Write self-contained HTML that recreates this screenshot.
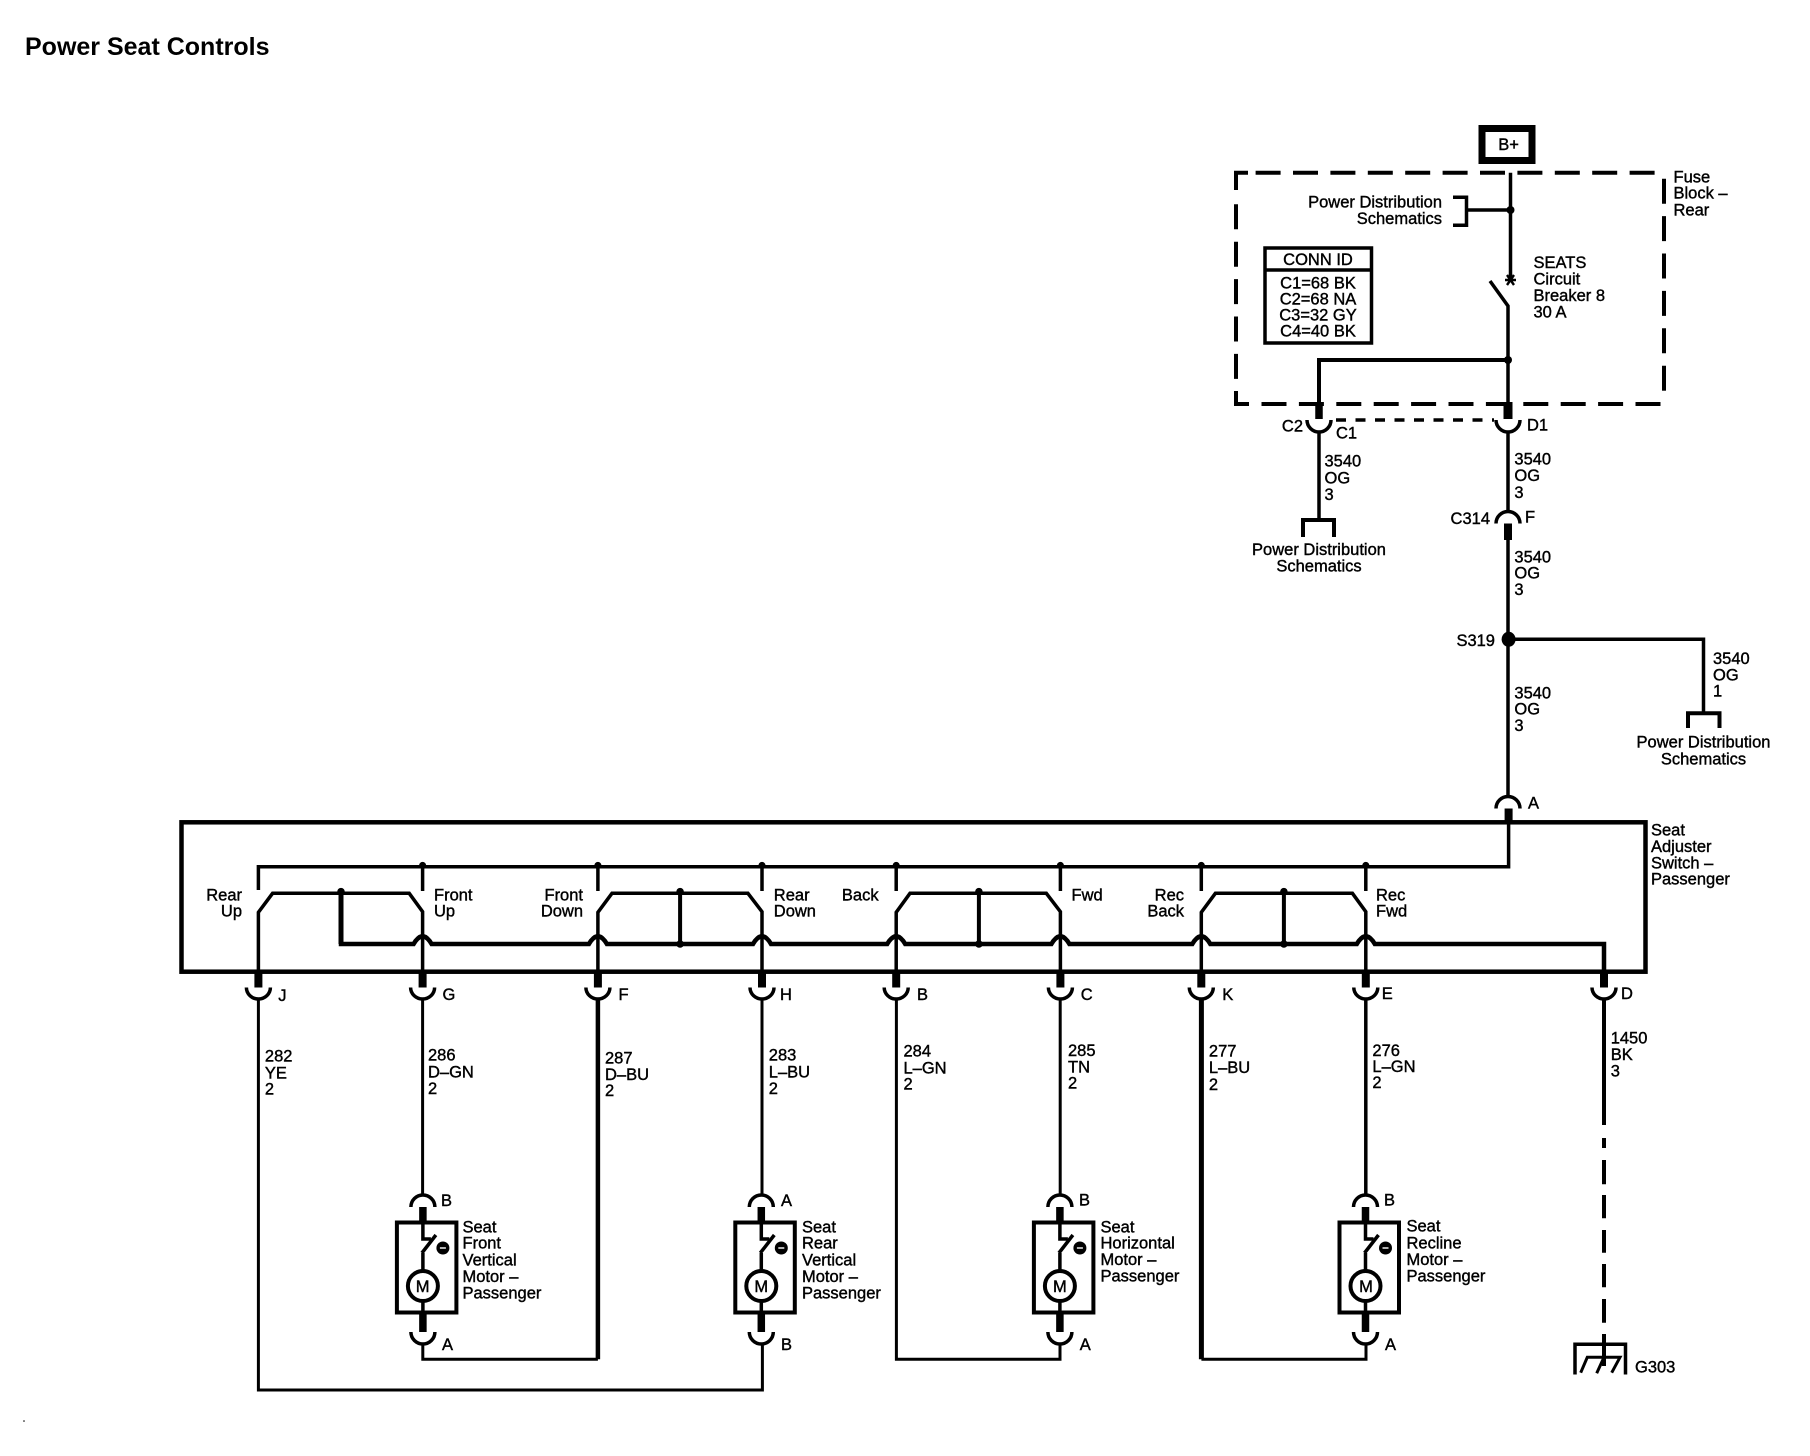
<!DOCTYPE html>
<html><head><meta charset="utf-8"><style>
html,body{margin:0;padding:0;background:#fff;width:1810px;height:1456px;overflow:hidden}
svg{display:block}
text{font-family:"Liberation Sans",sans-serif;font-size:16.5px;fill:#000;stroke:#000;stroke-width:.4}
.e{text-anchor:end}.m{text-anchor:middle}
.l{fill:none;stroke:#000;stroke-width:3.5}
.d{fill:none;stroke:#000;stroke-width:4;stroke-dasharray:25 12.4}
.s{fill:none;stroke:#000;stroke-width:7.5}
.o{fill:#000;stroke:none}
</style></head><body>
<svg width="1810" height="1456" viewBox="0 0 1810 1456" xmlns="http://www.w3.org/2000/svg">
<defs>
<g id="motor">
<path class="l" d="M-12 1207A12 12 0 0 1 12 1207"/>
<path class="s" d="M0 1207V1222"/>
<rect class="l" style="stroke-width:4" x="-26" y="1222.5" width="59.5" height="90"/>
<path class="l" d="M0 1222V1239H8"/>
<path class="l" d="M-1 1253L13 1235M0 1253V1271M0 1301V1315"/>
<circle class="l" style="stroke-width:4" cx="0" cy="1286" r="15"/>
<path class="s" d="M0 1313V1332"/>
<path class="l" d="M-12 1332A12 12 0 0 0 12 1332"/>
<circle class="o" cx="20" cy="1248" r="6.5"/>
<path d="M17 1248H23" stroke="#fff" stroke-width="1.4"/>
</g>
<path id="cup" class="l" d="M-12 987.5A12 11.5 0 0 0 12 987.5"/>
</defs>

<text x="25" y="55" style="font-size:25px;font-weight:bold;stroke-width:0">Power Seat Controls</text>
<circle class="o" cx="24" cy="1421" r="0.8"/>

<!-- B+ -->
<rect x="1482" y="128.5" width="50" height="32" fill="none" stroke="#000" stroke-width="7"/>
<text class="m" x="1508.6" y="150">B+</text>

<!-- fuse block dashed -->
<path class="d" d="M1255.6 172.7H1664"/>
<path class="d" d="M1236 204.3V404"/>
<path class="d" d="M1664 178.7V392"/>
<path class="d" d="M1261.5 404H1664"/>
<path fill="none" stroke="#000" stroke-width="4" d="M1236 190V172.7H1248"/>
<path fill="none" stroke="#000" stroke-width="4" d="M1236 391V404H1249"/>
<text x="1673.5" y="182.7">Fuse</text>
<text x="1673.5" y="198.7">Block –</text>
<text x="1673.5" y="215.7">Rear</text>

<!-- upper wire and switch -->
<path class="l" d="M1510.5 172.7V278"/>
<circle class="o" cx="1510.5" cy="210" r="4"/>
<path class="l" d="M1453 197.3H1466.5V225.3H1453M1466.5 210H1510.5"/>
<text class="e" x="1442" y="207.7">Power Distribution</text>
<text class="e" x="1442" y="224">Schematics</text>
<path fill="none" stroke="#000" stroke-width="2.4" d="M1505 280H1516M1507 275L1514 285M1514 275L1507 285"/>
<path class="l" d="M1490 281L1508 306V404"/>
<text x="1533.5" y="268">SEATS</text>
<text x="1533.5" y="284.3">Circuit</text>
<text x="1533.5" y="301">Breaker 8</text>
<text x="1533.5" y="317.3">30 A</text>
<path fill="none" stroke="#000" stroke-width="4" d="M1508 360H1319V404"/>
<circle class="o" cx="1508" cy="360" r="4"/>

<!-- conn id -->
<rect class="l" x="1265" y="248" width="106.5" height="95"/>
<path class="l" d="M1265 270H1371.5"/>
<text class="m" x="1318" y="265">CONN ID</text>
<text class="m" x="1318" y="288.3">C1=68 BK</text>
<text class="m" x="1318" y="304.3">C2=68 NA</text>
<text class="m" x="1318" y="320.7">C3=32 GY</text>
<text class="m" x="1318" y="336.7">C4=40 BK</text>

<!-- C1/D1 connector -->
<path class="s" d="M1319 402V419"/>
<path class="s" d="M1508 402V419" style="stroke-width:9"/>
<path class="l" d="M1307 420A12 12 0 0 0 1331 420"/>
<path class="l" d="M1496 420A12 12 0 0 0 1520 420"/>
<path class="l" stroke-dasharray="10 9.5" d="M1336 420H1494"/>
<text class="e" x="1303" y="431.7">C2</text>
<text x="1336" y="438.3">C1</text>
<text x="1527" y="430.7">D1</text>

<!-- left branch -->
<path class="l" d="M1319 432V520"/>
<path fill="none" stroke="#000" stroke-width="4" d="M1303 537V520H1334V537"/>
<text x="1324.5" y="466.7">3540</text>
<text x="1324.5" y="483.3">OG</text>
<text x="1324.5" y="500">3</text>
<text class="m" x="1319" y="555">Power Distribution</text>
<text class="m" x="1319" y="571.7">Schematics</text>

<!-- main vertical -->
<path class="l" d="M1508 432V512"/>
<text x="1514.4" y="464.7">3540</text>
<text x="1514.4" y="481">OG</text>
<text x="1514.4" y="498">3</text>
<path class="l" d="M1496 523.5A12 12 0 0 1 1520 523.5"/>
<path class="s" d="M1508 523.5V540" style="stroke-width:8"/>
<text class="e" x="1490" y="524">C314</text>
<text x="1525" y="522.7">F</text>
<path class="l" d="M1508 540V797"/>
<text x="1514.4" y="562.3">3540</text>
<text x="1514.4" y="578.7">OG</text>
<text x="1514.4" y="595">3</text>
<ellipse class="o" cx="1508.6" cy="639.3" rx="7" ry="7.5"/>
<text class="e" x="1495" y="646">S319</text>
<path class="l" d="M1508 639.3H1703.5V713.3"/>
<path fill="none" stroke="#000" stroke-width="4" d="M1688 728V713.3H1719.5V728"/>
<text x="1713" y="664">3540</text>
<text x="1713" y="680.3">OG</text>
<text x="1713" y="696.7">1</text>
<text class="m" x="1703.5" y="747.7">Power Distribution</text>
<text class="m" x="1703.5" y="764.3">Schematics</text>
<text x="1514.4" y="698.3">3540</text>
<text x="1514.4" y="714.7">OG</text>
<text x="1514.4" y="731">3</text>
<path class="l" d="M1496 808.5A12 12 0 0 1 1520 808.5"/>
<path class="s" d="M1508.6 808.5V823" style="stroke-width:8"/>
<text x="1528" y="808.3">A</text>

<!-- switch module -->
<rect x="181.5" y="822.3" width="1464" height="149.4" fill="none" stroke="#000" stroke-width="4.5"/>
<text x="1651" y="835.7">Seat</text>
<text x="1651" y="852">Adjuster</text>
<text x="1651" y="868.3">Switch –</text>
<text x="1651" y="884.3">Passenger</text>

<path class="l" d="M1508.6 822V866.7H258.4V890"/>
<path class="l" d="M422.6 866V891M597.9 866V891M762 866V891M896.2 866V891M1060.4 866V891M1201.3 866V891M1365.8 866V891"/>
<g class="o">
<circle cx="422.6" cy="865.5" r="3.6"/><circle cx="597.9" cy="865.5" r="3.6"/><circle cx="762" cy="865.5" r="3.6"/><circle cx="896.2" cy="865.5" r="3.6"/><circle cx="1060.4" cy="865.5" r="3.6"/><circle cx="1201.3" cy="865.5" r="3.6"/><circle cx="1365.8" cy="865.5" r="3.6"/>
<circle cx="341" cy="891.7" r="3.8"/><circle cx="680.1" cy="891.7" r="3.8"/><circle cx="978.9" cy="891.7" r="3.8"/><circle cx="1283.9" cy="891.7" r="3.8"/>
<circle cx="680.1" cy="944" r="3.8"/><circle cx="978.9" cy="944" r="3.8"/><circle cx="1283.9" cy="944" r="3.8"/>
</g>
<!-- contacts -->
<path class="l" d="M258.4 972V912.3L272.6 893.3H409.2L422.6 911.7V972"/>
<path class="l" d="M597.9 972V912.3L612 893.3H747.9L762 911.7V972"/>
<path class="l" d="M896.2 972V912.3L910 893.3H1046.3L1060.4 911.7V972"/>
<path class="l" d="M1201.3 972V912.3L1215.4 893.3H1352.4L1365.8 911.7V972"/>
<path class="l" d="M680.1 893V944M978.9 893V944M1283.9 893V944" style="stroke-width:4"/>
<path class="l" d="M341 893V944" style="stroke-width:5"/>
<!-- bus -->
<path fill="none" stroke="#000" stroke-width="4.5" d="M341 891.7V944H413.6Q417.6 937 422.6 936Q427.6 937 431.6 944H588.9Q592.9 937 597.9 936Q602.9 937 606.9 944H753Q757 937 762 936Q767 937 771 944H887.2Q891.2 937 896.2 936Q901.2 937 905.2 944H1051.4Q1055.4 937 1060.4 936Q1065.4 937 1069.4 944H1192.3Q1196.3 937 1201.3 936Q1206.3 937 1210.3 944H1356.8Q1360.8 937 1365.8 936Q1370.8 937 1374.8 944H1604V972"/>

<text class="e" x="242" y="900.7">Rear</text><text class="e" x="242" y="916.7">Up</text>
<text x="434" y="900.7">Front</text><text x="434" y="916.7">Up</text>
<text class="e" x="583" y="900.7">Front</text><text class="e" x="583" y="916.7">Down</text>
<text x="773.8" y="900.7">Rear</text><text x="773.8" y="916.7">Down</text>
<text class="e" x="878.6" y="900.7">Back</text>
<text x="1071.5" y="900.7">Fwd</text>
<text class="e" x="1184" y="900.7">Rec</text><text class="e" x="1184" y="916.7">Back</text>
<text x="1376" y="900.7">Rec</text><text x="1376" y="916.7">Fwd</text>

<!-- bottom connectors -->
<g class="s" style="stroke-width:8"><path d="M258.4 972V987.5M422.6 972V987.5M597.9 972V987.5M762 972V987.5M896.2 972V987.5M1060.4 972V987.5M1201.3 972V987.5M1365.8 972V987.5M1604 972V987.5"/></g>
<use href="#cup" x="258.4"/><use href="#cup" x="422.6"/><use href="#cup" x="597.9"/><use href="#cup" x="762"/><use href="#cup" x="896.2"/><use href="#cup" x="1060.4"/><use href="#cup" x="1201.3"/><use href="#cup" x="1365.8"/><use href="#cup" x="1604"/>
<text x="278.3" y="1001">J</text>
<text x="442.5" y="1000">G</text>
<text x="618.5" y="1000">F</text>
<text x="780" y="1000">H</text>
<text x="917" y="1000">B</text>
<text x="1080.7" y="1000">C</text>
<text x="1222.3" y="1000">K</text>
<text x="1381.7" y="999">E</text>
<text x="1621" y="999">D</text>

<!-- wire labels -->
<text x="264.9" y="1061.7">282</text><text x="264.9" y="1078.3">YE</text><text x="264.9" y="1094.3">2</text>
<text x="428" y="1060.7">286</text><text x="428" y="1077.3">D–GN</text><text x="428" y="1094">2</text>
<text x="605" y="1063.3">287</text><text x="605" y="1080">D–BU</text><text x="605" y="1096">2</text>
<text x="768.8" y="1060.7">283</text><text x="768.8" y="1077.3">L–BU</text><text x="768.8" y="1094">2</text>
<text x="903.5" y="1056.7">284</text><text x="903.5" y="1073.3">L–GN</text><text x="903.5" y="1089.3">2</text>
<text x="1068" y="1056">285</text><text x="1068" y="1072.3">TN</text><text x="1068" y="1088.3">2</text>
<text x="1208.9" y="1056.7">277</text><text x="1208.9" y="1073">L–BU</text><text x="1208.9" y="1090">2</text>
<text x="1372.4" y="1056">276</text><text x="1372.4" y="1072">L–GN</text><text x="1372.4" y="1088">2</text>
<text x="1610.7" y="1043.3">1450</text><text x="1610.7" y="1060">BK</text><text x="1610.7" y="1076.7">3</text>

<!-- lower wires -->
<path class="l" style="stroke-width:3" d="M258.4 999V1390H762.4V1344"/>
<path class="l" style="stroke-width:3" d="M422.6 999V1195M762 999V1195M1060.2 999V1195M896.4 999V1359.3H1060V1344"/>
<path class="l" d="M1365.8 999V1195"/>
<path class="l" style="stroke-width:4.5" d="M597.9 999V1359.3"/>
<path class="l" style="stroke-width:3" d="M597.9 1359.3H422.8V1344"/>
<path class="l" style="stroke-width:5" d="M1201.4 999V1359.3"/>
<path class="l" style="stroke-width:3" d="M1201.4 1359.3H1366V1344"/>
<path class="l" style="stroke-width:4" d="M1604 999V1125M1604 1138V1148M1604 1160V1184.3M1604 1195V1218.3M1604 1230V1252.7M1604 1264V1287.3M1604 1299V1322.7M1604 1334V1366"/>

<!-- motors -->
<use href="#motor" x="422.9"/>
<use href="#motor" x="761.3"/>
<use href="#motor" x="1059.9"/>
<use href="#motor" x="1365.5"/>
<text class="m" x="422.6" y="1292">M</text>
<text class="m" x="761.3" y="1292">M</text>
<text class="m" x="1059.9" y="1292">M</text>
<text class="m" x="1366" y="1292">M</text>

<text x="441" y="1206">B</text><text x="442" y="1350">A</text>
<text x="781" y="1206">A</text><text x="781" y="1350">B</text>
<text x="1079" y="1205.7">B</text><text x="1079.8" y="1350">A</text>
<text x="1384" y="1205.7">B</text><text x="1385" y="1350">A</text>

<text x="462.5" y="1232.3">Seat</text><text x="462.5" y="1248.3">Front</text><text x="462.5" y="1265.7">Vertical</text><text x="462.5" y="1282">Motor –</text><text x="462.5" y="1298.3">Passenger</text>
<text x="802" y="1232.3">Seat</text><text x="802" y="1248.3">Rear</text><text x="802" y="1265.7">Vertical</text><text x="802" y="1282">Motor –</text><text x="802" y="1298.3">Passenger</text>
<text x="1100.5" y="1232.3">Seat</text><text x="1100.5" y="1248.3">Horizontal</text><text x="1100.5" y="1265">Motor –</text><text x="1100.5" y="1281.7">Passenger</text>
<text x="1406.5" y="1231.7">Seat</text><text x="1406.5" y="1248.3">Recline</text><text x="1406.5" y="1265">Motor –</text><text x="1406.5" y="1281.7">Passenger</text>

<!-- ground -->
<path class="l" d="M1575 1374.5V1344.3H1625.5V1374.5"/>
<path fill="none" stroke="#000" stroke-width="3" d="M1580.7 1372.7L1587.3 1357.3H1620L1611.7 1372.7M1604 1357.3L1596.7 1373.3"/>
<text x="1635" y="1372.3">G303</text>
</svg>
</body></html>
